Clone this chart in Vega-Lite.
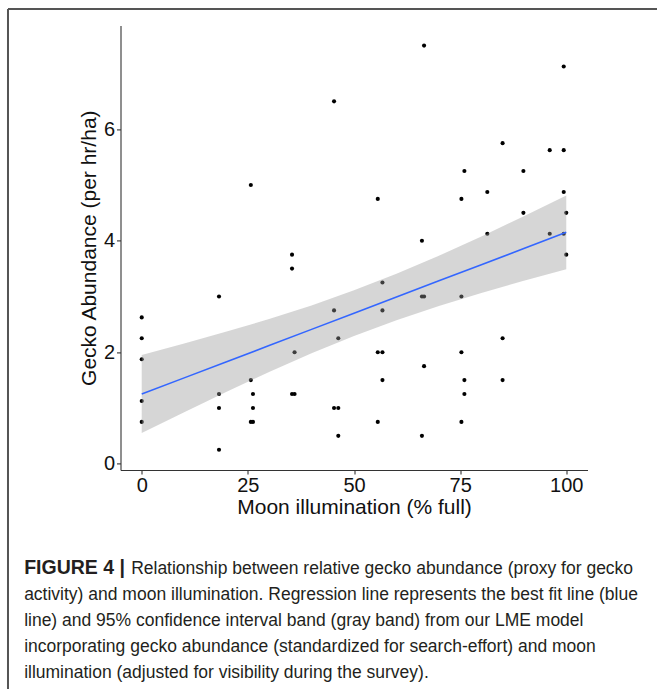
{
  "$schema": "https://vega.github.io/schema/vega-lite/v6.json",
  "width": 467,
  "height": 444.6,
  "autosize": {"type": "none"},
  "padding": {"left": 120.5, "top": 25.4, "right": 69.5, "bottom": 219},
  "background": "white",
  "config": {
    "view": {"stroke": null},
    "font": "Liberation Sans",
    "axis": {
      "grid": false,
      "domainColor": "#333333",
      "domainWidth": 1.1,
      "tickColor": "#333333",
      "tickSize": 4,
      "tickWidth": 1.1,
      "labelFont": "Liberation Sans",
      "labelFontSize": 20,
      "labelColor": "#111111",
      "titleFont": "Liberation Sans",
      "titleFontSize": 21,
      "titleFontWeight": "normal",
      "titleColor": "#111111"
    }
  },
  "datasets": {
    "points": [
      {"moon": 0, "gecko": 2.625}, {"moon": 0, "gecko": 2.25}, {"moon": 0, "gecko": 1.875}, {"moon": 0, "gecko": 1.125}, {"moon": 0, "gecko": 0.75},
      {"moon": 18.2, "gecko": 3.0}, {"moon": 18.2, "gecko": 1.25}, {"moon": 18.2, "gecko": 1.0}, {"moon": 18.2, "gecko": 0.25},
      {"moon": 25.7, "gecko": 5.0}, {"moon": 25.7, "gecko": 1.5}, {"moon": 25.7, "gecko": 0.75},
      {"moon": 26.2, "gecko": 1.25}, {"moon": 26.2, "gecko": 1.0}, {"moon": 26.2, "gecko": 0.75},
      {"moon": 35.4, "gecko": 3.75}, {"moon": 35.4, "gecko": 3.5}, {"moon": 35.4, "gecko": 1.25},
      {"moon": 36.0, "gecko": 2.0}, {"moon": 36.0, "gecko": 1.25},
      {"moon": 45.3, "gecko": 6.5}, {"moon": 45.3, "gecko": 2.75}, {"moon": 45.3, "gecko": 1.0},
      {"moon": 46.3, "gecko": 2.25}, {"moon": 46.3, "gecko": 1.0}, {"moon": 46.3, "gecko": 0.5},
      {"moon": 55.6, "gecko": 4.75}, {"moon": 55.6, "gecko": 2.0}, {"moon": 55.6, "gecko": 0.75},
      {"moon": 56.7, "gecko": 3.25}, {"moon": 56.7, "gecko": 2.75}, {"moon": 56.7, "gecko": 2.0}, {"moon": 56.7, "gecko": 1.5},
      {"moon": 66.0, "gecko": 4.0}, {"moon": 66.0, "gecko": 3.0}, {"moon": 66.0, "gecko": 0.5},
      {"moon": 66.5, "gecko": 7.5}, {"moon": 66.5, "gecko": 3.0}, {"moon": 66.5, "gecko": 1.75},
      {"moon": 75.3, "gecko": 4.75}, {"moon": 75.3, "gecko": 3.0}, {"moon": 75.3, "gecko": 2.0}, {"moon": 75.3, "gecko": 0.75},
      {"moon": 76.0, "gecko": 5.25}, {"moon": 76.0, "gecko": 1.5}, {"moon": 76.0, "gecko": 1.25},
      {"moon": 81.4, "gecko": 4.875}, {"moon": 81.4, "gecko": 4.125},
      {"moon": 85.0, "gecko": 5.75}, {"moon": 85.0, "gecko": 2.25}, {"moon": 85.0, "gecko": 1.5},
      {"moon": 89.9, "gecko": 5.25}, {"moon": 89.9, "gecko": 4.5},
      {"moon": 96.1, "gecko": 5.625}, {"moon": 96.1, "gecko": 4.125},
      {"moon": 99.4, "gecko": 7.125}, {"moon": 99.4, "gecko": 5.625}, {"moon": 99.4, "gecko": 4.875}, {"moon": 99.4, "gecko": 4.125},
      {"moon": 100, "gecko": 4.5}, {"moon": 100, "gecko": 3.75}
    ],
    "fit": [
      {"moon": 0, "fit": 1.25, "lo": 0.55, "hi": 1.95},
      {"moon": 10, "fit": 1.54, "lo": 0.925, "hi": 2.155},
      {"moon": 20, "fit": 1.83, "lo": 1.29, "hi": 2.37},
      {"moon": 30, "fit": 2.12, "lo": 1.645, "hi": 2.595},
      {"moon": 40, "fit": 2.41, "lo": 1.98, "hi": 2.84},
      {"moon": 50, "fit": 2.70, "lo": 2.29, "hi": 3.11},
      {"moon": 60, "fit": 2.99, "lo": 2.573, "hi": 3.407},
      {"moon": 70, "fit": 3.28, "lo": 2.828, "hi": 3.732},
      {"moon": 80, "fit": 3.57, "lo": 3.063, "hi": 4.077},
      {"moon": 90, "fit": 3.86, "lo": 3.281, "hi": 4.439},
      {"moon": 100, "fit": 4.15, "lo": 3.49, "hi": 4.81}
    ],
    "caption": [
      {
        "bold": "FIGURE 4 |",
        "first": "Relationship between relative gecko abundance (proxy for gecko",
        "rest": "activity) and moon illumination. Regression line represents the best fit line (blue\nline) and 95% confidence interval band (gray band) from our LME model\nincorporating gecko abundance (standardized for search-effort) and moon\nillumination (adjusted for visibility during the survey)."
      }
    ]
  },
  "layer": [
    {
      "data": {"name": "points"},
      "mark": {"type": "point", "filled": true, "color": "#000000", "opacity": 1, "size": 17},
      "encoding": {
        "x": {
          "field": "moon", "type": "quantitative",
          "scale": {"domain": [-5, 105], "nice": false, "zero": false},
          "axis": {"values": [0, 25, 50, 75, 100], "format": "d", "title": "Moon illumination (% full)", "labelPadding": 1, "titlePadding": 1}
        },
        "y": {
          "field": "gecko", "type": "quantitative",
          "scale": {"domain": [-0.1125, 7.8625], "nice": false, "zero": false},
          "axis": {"values": [0, 2, 4, 6], "format": "d", "title": "Gecko Abundance (per hr/ha)", "labelPadding": 2, "titlePadding": 4}
        }
      }
    },
    {
      "data": {"name": "fit"},
      "mark": {"type": "area", "color": "#999999", "opacity": 0.4},
      "encoding": {
        "x": {"field": "moon", "type": "quantitative"},
        "y": {"field": "lo", "type": "quantitative"},
        "y2": {"field": "hi"}
      }
    },
    {
      "data": {"name": "fit"},
      "mark": {"type": "line", "color": "#3366FF", "strokeWidth": 1.6},
      "encoding": {
        "x": {"field": "moon", "type": "quantitative"},
        "y": {"field": "fit", "type": "quantitative"}
      }
    },
    {
      "data": {"values": [{}]},
      "mark": {"type": "rule", "color": "#555555", "strokeWidth": 2, "clip": false},
      "encoding": {
        "x": {"datum": -31.5, "type": "quantitative"},
        "x2": {"datum": 125},
        "y": {"datum": 8.156, "type": "quantitative"}
      }
    },
    {
      "data": {"values": [{}]},
      "mark": {"type": "rule", "color": "#555555", "strokeWidth": 2, "clip": false},
      "encoding": {
        "x": {"datum": -31.5, "type": "quantitative"},
        "y": {"datum": 8.156, "type": "quantitative"},
        "y2": {"datum": -5}
      }
    },
    {
      "data": {"name": "caption"},
      "mark": {"type": "text", "align": "left", "baseline": "alphabetic", "font": "Liberation Sans", "fontSize": 19.5, "fontWeight": "bold", "color": "#231f20", "clip": false},
      "encoding": {
        "x": {"datum": -27.7, "type": "quantitative"},
        "y": {"datum": -1.97, "type": "quantitative"},
        "text": {"field": "bold"}
      }
    },
    {
      "data": {"name": "caption"},
      "mark": {"type": "text", "align": "left", "baseline": "alphabetic", "dx": 107, "font": "Liberation Sans", "fontSize": 17.5, "color": "#231f20", "clip": false},
      "encoding": {
        "x": {"datum": -27.7, "type": "quantitative"},
        "y": {"datum": -1.97, "type": "quantitative"},
        "text": {"field": "first"}
      }
    },
    {
      "data": {"name": "caption"},
      "mark": {"type": "text", "align": "left", "baseline": "alphabetic", "dy": 26.2, "font": "Liberation Sans", "fontSize": 17.5, "lineHeight": 26.2, "lineBreak": "\n", "color": "#231f20", "clip": false},
      "encoding": {
        "x": {"datum": -27.7, "type": "quantitative"},
        "y": {"datum": -1.97, "type": "quantitative"},
        "text": {"field": "rest"}
      }
    }
  ]
}
